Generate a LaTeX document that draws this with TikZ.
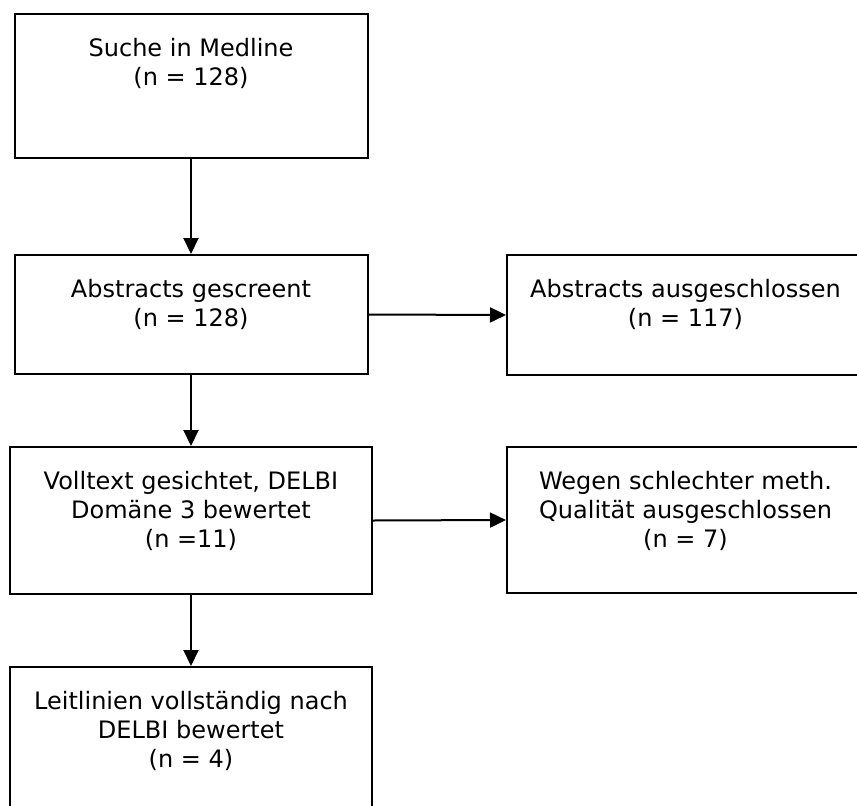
\documentclass[tikz,border=0pt]{standalone}
\usepackage{fontspec}
\newfontfamily\flowfont{DejaVu Sans}
\usetikzlibrary{arrows.meta,positioning}

\begin{document}
\begin{tikzpicture}[x=1pt,y=-1pt,
  box/.style={draw,line width=2pt,minimum width=353pt,inner sep=0pt},
  txt/.style={font=\flowfont\fontsize{24}{29}\selectfont,align=center,inner sep=0pt},
  pfeil/.style={line width=2pt,-{Triangle[length=16pt,width=15pt]}}]
\clip (0,0) rectangle (857,806);
% linke Spalte
\node[box,minimum height=144pt] (suche) at (191,86) {};
\node[box,minimum height=119pt] (screen) at (191,314.5) {};
\node[box,minimum width=362pt,minimum height=147pt] (volltext) at (191,520.5) {};
\node[box,minimum width=362pt,minimum height=148pt] (delbi) at (191,741) {};
% rechte Spalte
\node[box,minimum width=357pt,minimum height=120pt] (aus1) at (685.5,315) {};
\node[box,minimum width=357pt,minimum height=146pt] (aus2) at (685.5,520) {};
% Texte
\node[txt,below=25pt of suche.north] (suche-t) {Suche in Medline\\(n = 128)};
\node[txt,below=25pt of screen.north] (screen-t) {Abstracts gescreent\\(n = 128)};
\node[txt,below=25pt of volltext.north] (volltext-t) {Volltext gesichtet, DELBI\\Domäne 3 bewertet\\(n =11)};
\node[txt,below=25pt of delbi.north] (delbi-t) {Leitlinien vollständig nach\\DELBI bewertet\\(n = 4)};
\node[txt,below=25pt of aus1.north] (aus1-t) {Abstracts ausgeschlossen\\(n = 117)};
\node[txt,below=25pt of aus2.north] (aus2-t) {Wegen schlechter meth.\\Qualität ausgeschlossen\\(n = 7)};
% Pfeile
\draw[pfeil] (suche.south) -- (screen.north);
\draw[pfeil] (screen.south) -- (volltext.north);
\draw[pfeil] (volltext.south) -- (delbi.north);
\draw[pfeil] (screen.east) -- (aus1.west);
\draw[pfeil] (volltext.east) -- (aus2.west);
\end{tikzpicture}
\end{document}
